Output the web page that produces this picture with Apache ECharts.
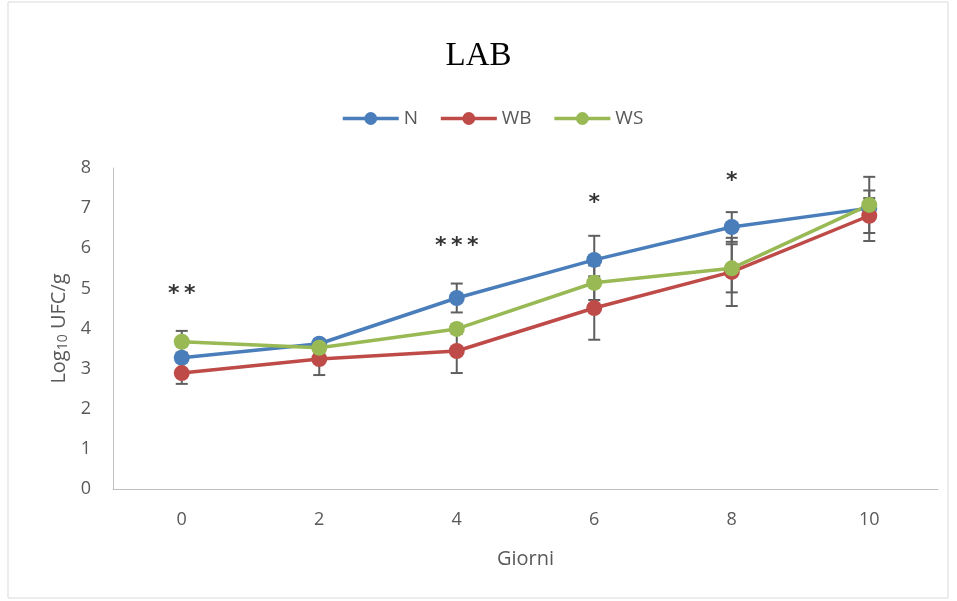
<!DOCTYPE html>
<html><head><meta charset="utf-8">
<script src="https://cdn.jsdelivr.net/npm/echarts@6/dist/echarts.min.js"></script>
<style>html,body{margin:0;padding:0;background:#fff}#c{width:957px;height:601px}</style>
</head><body><div id="c"></div>
<script>
var categories = ['0','2','4','6','8','10'];
var seriesNames = ['N','WB','WS'];
var valuesN  = [3.27, 3.62, 4.76, 5.71, 6.53, 7.00];
var valuesWB = [2.89, 3.24, 3.44, 4.51, 5.41, 6.81];
var valuesWS = [3.67, 3.52, 3.99, 5.14, 5.50, 7.08];
var errN  = [0.10, 0.12, 0.36, 0.60, 0.37, 0.25];
var errWB = [0.27, 0.40, 0.55, 0.79, 0.85, 0.63];
var errWS = [0.27, 0.10, 0.12, 0.43, 0.60, 0.70];
var sigLabels = ['*\u2009*', '', '*\u2009*\u2009*', '*', '*', ''];
var sigHeights = [4.86, null, 6.06, 7.13, 7.66, null];
var colors = ['#4A7EBB', '#BE4B48', '#98B954'];

var chart = echarts.init(document.getElementById('c'), null, {renderer:'canvas'});
var allVals = [valuesN, valuesWB, valuesWS];
var allErr = [errN, errWB, errWS];

function errSeries(i){
  var data = categories.map(function(c, k){ return [k, allVals[i][k]-allErr[i][k], allVals[i][k]+allErr[i][k]]; });
  return {
    type:'custom', z:1, silent:true,
    renderItem:function(params, api){
      var x = api.value(0);
      var lo = api.coord([x, api.value(1)]);
      var hi = api.coord([x, api.value(2)]);
      var st = {stroke:'#5F5F5F', lineWidth:2};
      var hw = 6;
      return {type:'group', children:[
        {type:'line', shape:{x1:lo[0],y1:lo[1],x2:hi[0],y2:hi[1]}, style:st},
        {type:'line', shape:{x1:lo[0]-hw,y1:lo[1],x2:lo[0]+hw,y2:lo[1]}, style:st},
        {type:'line', shape:{x1:hi[0]-hw,y1:hi[1],x2:hi[0]+hw,y2:hi[1]}, style:st}
      ]};
    },
    encode:{x:0, y:[1,2]},
    data:data
  };
}

var series = [];
for (var i=0;i<3;i++) series.push(errSeries(i));
for (var j=0;j<3;j++){
  series.push({
    name: seriesNames[j], type:'line', z:3,
    data: allVals[j],
    symbol:'circle', symbolSize:16,
    lineStyle:{width:3.5, color:colors[j]},
    itemStyle:{color:colors[j]},
    emphasis:{disabled:true}
  });
}
series.push({
  type:'scatter', z:4, silent:true, symbolSize:0,
  data: categories.map(function(c,k){ return sigHeights[k]==null?null:[k, sigHeights[k], sigLabels[k]]; }).filter(function(d){return d;}),
  label:{show:true, position:'inside', formatter:function(p){return p.data[2];},
    color:'#000', fontFamily:'DejaVu Sans', fontSize:22, fontWeight:'bold'}
});

chart.setOption({
  animation:false,
  backgroundColor:'#fff',
  graphic:[{type:'rect', shape:{x:8, y:2, width:940, height:596}, style:{fill:'none', stroke:'#D9D9D9', lineWidth:1}}],
  title:{text:'LAB', left:'center', top:35, textStyle:{fontFamily:'Liberation Serif', fontSize:33, fontWeight:'normal', color:'#000'}},
  legend:{data:seriesNames, top:104, left:336, itemWidth:56, itemHeight:16, itemGap:21,
    lineStyle:{width:3.5},
    textStyle:{fontFamily:'Open Sans', fontSize:19, color:'#595959'}},
  grid:{left:113, right:19, top:168, bottom:112},
  xAxis:{type:'category', data:categories, boundaryGap:true,
    name:'Giorni', nameLocation:'middle', nameGap:60,
    nameTextStyle:{fontFamily:'Open Sans', fontSize:20, color:'#595959'},
    axisLine:{lineStyle:{color:'#BFBFBF', width:1}}, axisTick:{show:false},
    axisLabel:{fontFamily:'Open Sans', fontSize:18, color:'#595959', margin:22}},
  yAxis:{type:'value', min:0, max:8, interval:1,
    name:'{a|Log}{s|10}{a| UFC/g}', nameLocation:'middle', nameGap:41, nameRotate:90,
    nameTextStyle:{rich:{a:{fontFamily:'Open Sans', fontSize:20, color:'#595959'}, s:{fontFamily:'Open Sans', fontSize:14, color:'#595959', verticalAlign:'bottom', lineHeight:22}}},
    axisLine:{show:true, lineStyle:{color:'#BFBFBF', width:1}}, axisTick:{show:false},
    splitLine:{show:false},
    axisLabel:{fontFamily:'Open Sans', fontSize:18, color:'#595959', margin:22}},
  series:series
});
</script></body></html>
